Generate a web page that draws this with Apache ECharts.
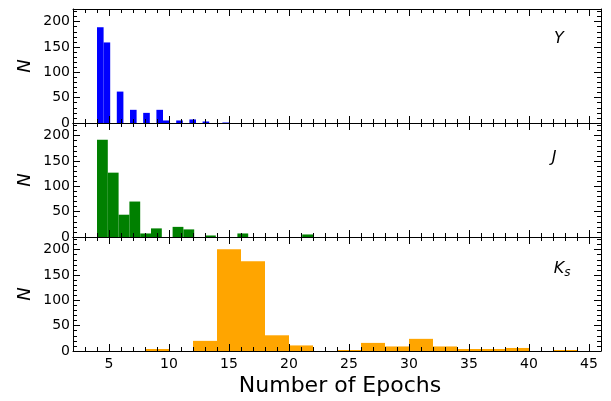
<!DOCTYPE html>
<html><head><meta charset="utf-8">
<script src="https://cdn.jsdelivr.net/npm/echarts@6/dist/echarts.min.js"></script>
<style>html,body{margin:0;padding:0;background:#fff}#c{width:611px;height:401px}</style>
</head><body><div id="c"></div>
<script>
// ---- data ----
const xMajorTicks = [5, 10, 15, 20, 25, 30, 35, 40, 45];
const yMajorTicks = [0, 50, 100, 150, 200];

// Y band histogram (bin edges and counts)
const yBinLo  = [4.00, 4.55, 5.65, 6.75, 7.85, 8.95, 9.50, 10.60, 11.70, 12.80, 14.45];
const yBinHi  = [4.55, 5.10, 6.20, 7.30, 8.40, 9.50, 10.05, 11.15, 12.25, 13.35, 15.00];
const yCounts = [189, 159, 62, 26, 20, 26, 5, 5, 7, 3, 1];

// J band histogram
const jBinLo  = [4.0, 4.9, 5.8, 6.7, 7.6, 8.5, 10.3, 11.2, 13.0, 15.7, 21.1];
const jBinHi  = [4.9, 5.8, 6.7, 7.6, 8.5, 9.4, 11.2, 12.1, 13.9, 16.6, 22.0];
const jCounts = [192, 127, 44, 70, 7, 17, 20, 15, 3, 7, 5];

// Ks band histogram
const kBinLo  = [8, 12, 14, 16, 18, 20, 24, 26, 28, 30, 32, 34, 36, 38, 42];
const kBinHi  = [10, 14, 16, 18, 20, 22, 26, 28, 30, 32, 34, 36, 38, 40, 44];
const kCounts = [4, 20, 201, 177, 31, 11, 2, 16, 9, 24, 9, 4, 4, 6, 2];

const F = 'DejaVu Sans';
const tops = [9, 123, 237];
const H = 114;

const chart = echarts.init(document.getElementById('c'), null, {renderer: 'canvas'});

const grids = tops.map(t => ({left: 73, width: 528, top: t, height: H, containLabel: false}));

function xAxesFor(gi, showLabels) {
  const base = {type: 'value', gridIndex: gi, min: 2, max: 46, splitLine: {show: false}, z: 5};
  const line = {show: true, onZero: false, lineStyle: {color: '#000', width: 1}};
  const noLine = {show: false, onZero: false};
  const label = {show: showLabels, customValues: xMajorTicks, margin: 6, color: '#000', fontSize: 14, fontFamily: F};
  return [
    Object.assign({}, base, {position: 'bottom', axisLine: line,
      axisTick: {show: true, inside: true, length: 7, customValues: xMajorTicks, lineStyle: {color: '#000', width: 1}},
      axisLabel: label}),
    Object.assign({}, base, {position: 'bottom', interval: 1, axisLine: noLine,
      axisTick: {show: true, inside: true, length: 4, lineStyle: {color: '#000', width: 1}},
      axisLabel: {show: false}}),
    Object.assign({}, base, {position: 'top', axisLine: line,
      axisTick: {show: true, inside: true, length: 7, customValues: xMajorTicks, lineStyle: {color: '#000', width: 1}},
      axisLabel: {show: false, customValues: xMajorTicks}}),
    Object.assign({}, base, {position: 'top', interval: 1, axisLine: noLine,
      axisTick: {show: true, inside: true, length: 4, lineStyle: {color: '#000', width: 1}},
      axisLabel: {show: false}})
  ];
}

function yAxesFor(gi) {
  const base = {type: 'value', gridIndex: gi, min: 0, max: 225, splitLine: {show: false}, z: 5};
  const line = {show: true, onZero: false, lineStyle: {color: '#000', width: 1}};
  const noLine = {show: false, onZero: false};
  return [
    Object.assign({}, base, {position: 'left', axisLine: line,
      axisTick: {show: true, inside: true, length: 7, customValues: yMajorTicks, lineStyle: {color: '#000', width: 1}},
      axisLabel: {show: true, customValues: yMajorTicks, margin: 3, color: '#000', fontSize: 14, fontFamily: F}}),
    Object.assign({}, base, {position: 'left', interval: 10, axisLine: noLine,
      axisTick: {show: true, inside: true, length: 4, lineStyle: {color: '#000', width: 1}},
      axisLabel: {show: false}}),
    Object.assign({}, base, {position: 'right', axisLine: line,
      axisTick: {show: true, inside: true, length: 7, customValues: yMajorTicks, lineStyle: {color: '#000', width: 1}},
      axisLabel: {show: false, customValues: yMajorTicks}}),
    Object.assign({}, base, {position: 'right', interval: 10, axisLine: noLine,
      axisTick: {show: true, inside: true, length: 4, lineStyle: {color: '#000', width: 1}},
      axisLabel: {show: false}})
  ];
}

function histSeries(gi, lo, hi, cnt, color) {
  return {
    type: 'custom', coordinateSystem: 'cartesian2d',
    xAxisIndex: gi * 4, yAxisIndex: gi * 4, z: 2, silent: true, animation: false,
    data: lo.map((l, i) => [l, hi[i], cnt[i]]),
    encode: {x: [0, 1], y: 2},
    renderItem: function (params, api) {
      const p0 = api.coord([api.value(0), api.value(2)]);
      const p1 = api.coord([api.value(1), 0]);
      return {type: 'rect', shape: {x: p0[0], y: p0[1], width: p1[0] - p0[0], height: p1[1] - p0[1]},
        style: {fill: color}};
    }
  };
}

const nLabels = tops.map(t => ({
  type: 'text', x: 25, y: t + H / 2, rotation: Math.PI / 2,
  style: {text: 'N', fontFamily: F, fontStyle: 'italic', fontSize: 18, fill: '#000', align: 'center', verticalAlign: 'middle'}
}));

const option = {
  backgroundColor: '#fff',
  animation: false,
  grid: grids,
  xAxis: [].concat(xAxesFor(0, false), xAxesFor(1, false), xAxesFor(2, true)),
  yAxis: [].concat(yAxesFor(0), yAxesFor(1), yAxesFor(2)),
  series: [
    histSeries(0, yBinLo, yBinHi, yCounts, '#0000ff'),
    histSeries(1, jBinLo, jBinHi, jCounts, '#008000'),
    histSeries(2, kBinLo, kBinHi, kCounts, '#ffa500')
  ],
  graphic: nLabels.concat([
    {type: 'text', x: 559, y: 39, style: {text: 'Y', fontFamily: F, fontStyle: 'italic', fontSize: 16, fill: '#000', align: 'center', verticalAlign: 'middle'}},
    {type: 'text', x: 554, y: 158, style: {text: 'J', fontFamily: F, fontStyle: 'italic', fontSize: 16, fill: '#000', align: 'center', verticalAlign: 'middle'}},
    {type: 'text', x: 559, y: 268.5, style: {text: 'K', fontFamily: F, fontStyle: 'italic', fontSize: 16, fill: '#000', align: 'center', verticalAlign: 'middle'}},
    {type: 'text', x: 567.5, y: 273, style: {text: 's', fontFamily: F, fontStyle: 'italic', fontSize: 12, fill: '#000', align: 'center', verticalAlign: 'middle'}},
    {type: 'text', x: 340, y: 386, style: {text: 'Number of Epochs', fontFamily: F, fontSize: 22, fill: '#000', align: 'center', verticalAlign: 'middle'}}
  ])
};
chart.setOption(option);
</script>
</body></html>
